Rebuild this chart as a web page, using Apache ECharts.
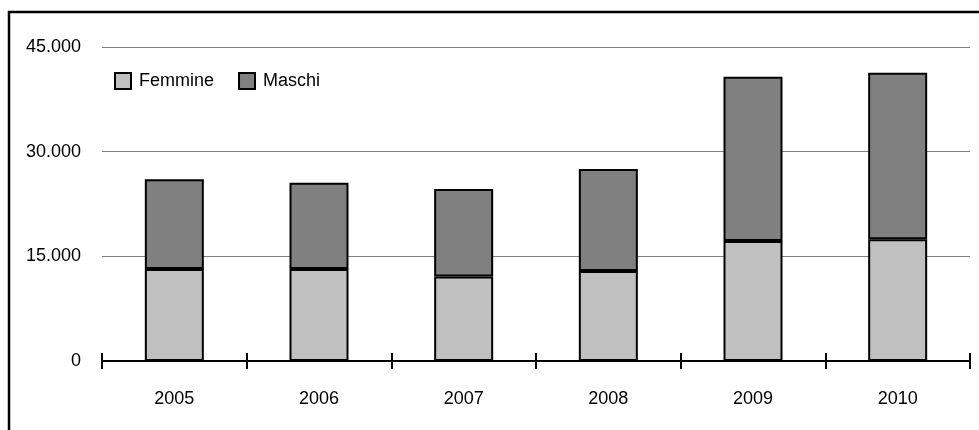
<!DOCTYPE html>
<html>
<head>
<meta charset="utf-8">
<script src="https://cdn.jsdelivr.net/npm/echarts@6/dist/echarts.min.js"></script>
<style>
  html, body { margin: 0; padding: 0; background: #fff; }
  #chart { width: 979px; height: 430px; }
</style>
</head>
<body>
<div id="chart"></div>
<script>
const categories = ['2005', '2006', '2007', '2008', '2009', '2010'];
const femmine = [13200, 13200, 12100, 12900, 17200, 17450];
const maschi = [12850, 12350, 12550, 14600, 23550, 23850];
const yTicks = [0, 15000, 30000, 45000];

const FONT = '"Liberation Sans Narrow", "Liberation Sans", Arial, sans-serif';

function fmt(v) {
  return String(v).replace(/\B(?=(\d{3})+(?!\d))/g, '.');
}

const chart = echarts.init(document.getElementById('chart'), null, { renderer: 'canvas' });

chart.setOption({
  animation: false,
  backgroundColor: '#ffffff',
  textStyle: { fontFamily: FONT },
  graphic: [
    {
      type: 'polyline',
      shape: { points: [[9, 440], [9, 12], [985, 12]] },
      style: { stroke: '#000', lineWidth: 2.5, fill: null },
      z: 100
    }
  ],
  legend: {
    left: 109,
    top: 67,
    itemWidth: 16,
    itemHeight: 16,
    itemGap: 24,
    icon: 'rect',
    data: ['Femmine', 'Maschi'],
    textStyle: { fontFamily: FONT, fontSize: 18, color: '#000', padding: [0, 0, 0, 3] }
  },
  grid: { left: 102, right: 9, top: 47, bottom: 69, containLabel: false },
  xAxis: [
    {
      type: 'category',
      data: categories,
      position: 'bottom',
      boundaryGap: true,
      axisLine: { show: true, lineStyle: { color: '#000', width: 2 } },
      axisTick: { show: true, inside: false, length: 8, lineStyle: { color: '#000', width: 2 } },
      axisLabel: { color: '#000', fontFamily: FONT, fontSize: 18, margin: 29 },
      splitLine: { show: false }
    },
    {
      type: 'category',
      data: categories,
      position: 'bottom',
      boundaryGap: true,
      axisLine: { show: false },
      axisTick: { show: true, inside: true, length: 8, lineStyle: { color: '#000', width: 2 } },
      axisLabel: { show: false },
      splitLine: { show: false }
    }
  ],
  yAxis: {
    type: 'value',
    min: yTicks[0],
    max: yTicks[yTicks.length - 1],
    interval: yTicks[1] - yTicks[0],
    axisLine: { show: false },
    axisTick: { show: false },
    axisLabel: { color: '#000', fontFamily: FONT, fontSize: 18, margin: 21, formatter: fmt, padding: [0, 0, 4, 0] },
    splitLine: { show: true, lineStyle: { color: '#808080', width: 1 } }
  },
  series: [
    {
      name: 'Femmine',
      type: 'bar',
      stack: 'tot',
      xAxisIndex: 0,
      barWidth: 59,
      data: femmine,
      itemStyle: { color: '#c0c0c0', borderColor: '#000', borderWidth: 2 },
      z: 2
    },
    {
      name: 'Maschi',
      type: 'bar',
      stack: 'tot',
      xAxisIndex: 0,
      barWidth: 59,
      data: maschi,
      itemStyle: { color: '#808080', borderColor: '#000', borderWidth: 2 },
      z: 2
    }
  ]
});
</script>
</body>
</html>
